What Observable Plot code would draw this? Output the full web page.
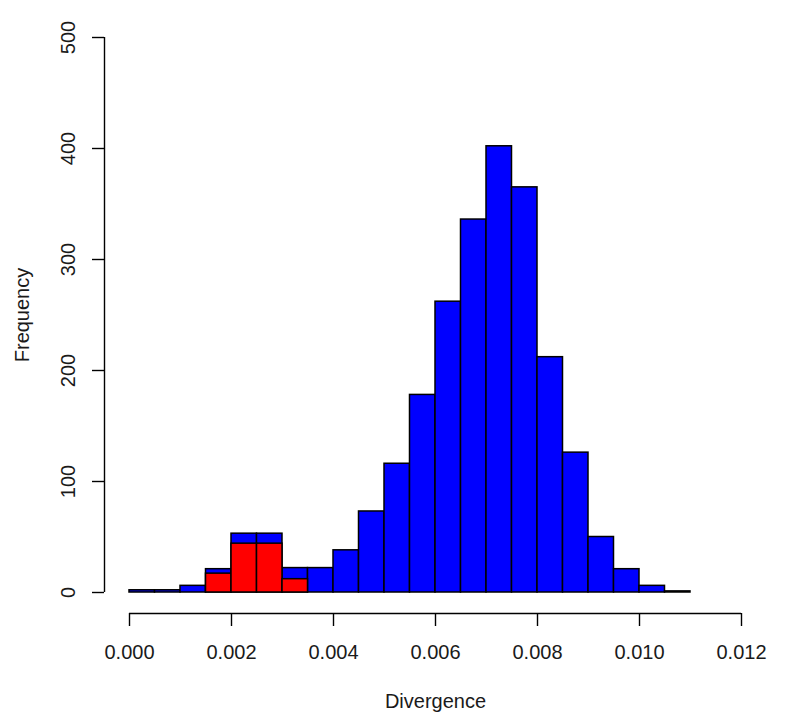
<!DOCTYPE html>
<html>
<head>
<meta charset="utf-8">
<script src="https://cdn.jsdelivr.net/npm/d3@7"></script>
<script src="https://cdn.jsdelivr.net/npm/@observablehq/plot@0.6"></script>
<style>
  html, body { margin: 0; padding: 0; background: #fff; }
  #chart svg { display: block; }
</style>
</head>
<body>
<div id="chart"></div>
<script>
// Histogram bins (Divergence), width 0.0005
const binLo = [0.0000, 0.0005, 0.0010, 0.0015, 0.0020, 0.0025, 0.0030, 0.0035, 0.0040, 0.0045, 0.0050,
               0.0055, 0.0060, 0.0065, 0.0070, 0.0075, 0.0080, 0.0085, 0.0090, 0.0095, 0.0100, 0.0105];
const binHi = [0.0005, 0.0010, 0.0015, 0.0020, 0.0025, 0.0030, 0.0035, 0.0040, 0.0045, 0.0050, 0.0055,
               0.0060, 0.0065, 0.0070, 0.0075, 0.0080, 0.0085, 0.0090, 0.0095, 0.0100, 0.0105, 0.0110];
const blueCounts = [2, 2, 6, 21, 53, 53, 22, 22, 38, 73, 116, 178, 262, 336, 402, 365, 212, 126, 50, 21, 6, 1];

// Overlaid red subset
const redLo = [0.0015, 0.0020, 0.0025, 0.0030];
const redHi = [0.0020, 0.0025, 0.0030, 0.0035];
const redCounts = [17, 44, 44, 12];

// Axis ticks
const xTicks = [0.000, 0.002, 0.004, 0.006, 0.008, 0.010, 0.012];
const yTicks = [0, 100, 200, 300, 400, 500];

const blue = binLo.map((lo, i) => ({lo, hi: binHi[i], n: blueCounts[i]}));
const red = redLo.map((lo, i) => ({lo, hi: redHi[i], n: redCounts[i]}));

const font = "'Liberation Sans', Arial, Helvetica, sans-serif";
const fs = 20;

const chart = Plot.plot({
  width: 800,
  height: 721,
  marginLeft: 129,
  marginRight: 59,
  marginTop: 37,
  marginBottom: 129,
  style: {fontFamily: font, fontSize: fs + "px", color: "#1a1a1a", background: "#fff"},
  x: {domain: [xTicks[0], xTicks[xTicks.length - 1]]},
  y: {domain: [yTicks[0], yTicks[yTicks.length - 1]]},
  marks: [
    Plot.rectY(blue, {x1: "lo", x2: "hi", y: "n", fill: "#0000ff", stroke: "#000", strokeWidth: 1.5, inset: 0}),
    Plot.rectY(red, {x1: "lo", x2: "hi", y: "n", fill: "#ff0000", stroke: "#000", strokeWidth: 1.5, inset: 0}),
    // x axis (R style, offset below the plot)
    Plot.ruleY([0], {x1: xTicks[0], x2: xTicks[xTicks.length - 1], dy: 21, stroke: "#000", strokeWidth: 1.4}),
    Plot.axisX(xTicks, {tickSize: 13, dy: 21, tickPadding: 18, tickFormat: d3.format(".3f"), fontSize: fs, label: null, stroke: "#000", strokeWidth: 1.4}),
    // y axis
    Plot.ruleX([0], {y1: yTicks[0], y2: yTicks[yTicks.length - 1], dx: -25, stroke: "#000", strokeWidth: 1.4}),
    Plot.axisY(yTicks, {tickSize: 12, dx: -25, tickFormat: () => "", label: null, stroke: "#000", strokeWidth: 1.4}),
    Plot.text(yTicks, {y: d => d, text: d => String(d), frameAnchor: "left", textAnchor: "middle", dx: -61, rotate: -90, fontSize: fs, fill: "#1a1a1a"}),
    // axis titles
    Plot.text(["Divergence"], {frameAnchor: "bottom", dy: 115, fontSize: fs, fill: "#1a1a1a"}),
    Plot.text(["Frequency"], {frameAnchor: "left", textAnchor: "middle", dx: -107, rotate: -90, fontSize: fs, fill: "#1a1a1a"})
  ]
});
document.getElementById("chart").appendChild(chart);
</script>
</body>
</html>
